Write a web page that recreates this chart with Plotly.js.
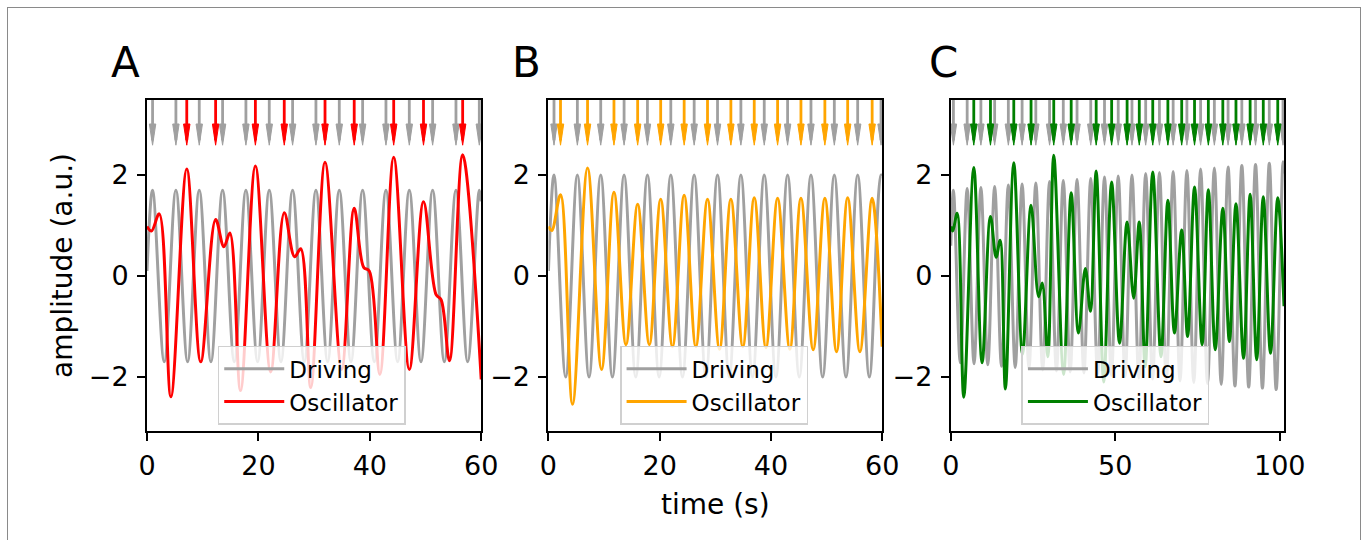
<!DOCTYPE html>
<html>
<head>
<meta charset="utf-8">
<script src="https://cdn.plot.ly/plotly-3.0.1.min.js"></script>
<style>
  html, body { margin: 0; padding: 0; background: #ffffff; }
  #wrap { position: relative; width: 1367px; height: 540px; overflow: hidden; }
  #chart { position: absolute; left: 0; top: 0; width: 1367px; height: 540px; }
  #frame { position: absolute; left: 7px; top: 7px; width: 1352px; height: 560px; border: 1.5px solid #8a8a8a; pointer-events: none; }
</style>
</head>
<body>
<div id="wrap"><div id="chart"></div><div id="frame"></div></div>
<script>
// ---------------- DATA ----------------
const panelLabels = ["A", "B", "C"];
const seriesNames = ["Driving", "Oscillator"];
const xTickValsAB = [0, 20, 40, 60];
const xTickValsC = [0, 50, 100];
const yTickVals = [-2, 0, 2];

// Panel A – driving signal (extrema)
const drvA_t = [0, 1.0, 3.1, 5.19, 7.29, 9.38, 11.48, 13.57, 15.67, 17.76, 19.86, 21.95, 24.05, 26.14, 28.24, 30.33, 32.43, 34.52, 36.62, 38.71, 40.81, 42.9, 45.0, 47.09, 49.19, 51.28, 53.38, 55.47, 57.57, 59.66, 60];
const drvA_y = [0.1, 1.7, -1.7, 1.7, -1.7, 1.7, -1.7, 1.7, -1.7, 1.7, -1.7, 1.7, -1.7, 1.7, -1.7, 1.7, -1.7, 1.7, -1.7, 1.7, -1.7, 1.7, -1.7, 1.7, -1.7, 1.7, -1.7, 1.7, -1.7, 1.7, 1.48];
const drvA_peaks = [1.0, 5.19, 9.38, 13.57, 17.76, 21.95, 26.14, 30.33, 34.52, 38.71, 42.9, 47.09, 51.28, 55.47, 59.66];
// Panel A – oscillator (red)
const oscA_t = [0, 0.8, 2.2, 4.29, 7.14, 9.64, 12.32, 13.8, 14.88, 16.79, 19.46, 22.2, 24.64, 26.5, 27.6, 29.4, 31.96, 34.95, 37.2, 38.9, 39.9, 41.8, 44.29, 47.1, 49.64, 51.9, 52.8, 54.3, 56.67, 60];
const oscA_y = [0.98, 0.89, 1.23, -2.39, 2.12, -1.70, 1.12, 0.58, 0.85, -2.27, 2.18, -1.9, 1.25, 0.38, 0.54, -2.21, 2.25, -1.85, 1.34, 0.17, 0.1, -1.95, 2.35, -1.85, 1.47, -0.37, -0.47, -1.68, 2.4, -2.05];
const oscA_peaks = [7.14, 12.32, 19.46, 24.64, 31.96, 37.2, 44.29, 49.64, 56.67];

// Panel B – driving signal
const drvB_t = [0, 1.0, 3.1, 5.2, 7.3, 9.4, 11.5, 13.6, 15.7, 17.8, 19.9, 22.0, 24.1, 26.2, 28.3, 30.4, 32.5, 34.6, 36.7, 38.8, 40.9, 43.0, 45.1, 47.2, 49.3, 51.4, 53.5, 55.6, 57.7, 59.8, 60];
const drvB_y = [0.1, 2.0, -2.0, 2.0, -2.0, 2.0, -2.0, 2.0, -2.0, 2.0, -2.0, 2.0, -2.0, 2.0, -2.0, 2.0, -2.0, 2.0, -2.0, 2.0, -2.0, 2.0, -2.0, 2.0, -2.0, 2.0, -2.0, 2.0, -2.0, 2.0, 1.99];
const drvB_peaks = [1.0, 5.2, 9.4, 13.6, 17.8, 22.0, 26.2, 30.4, 34.6, 38.8, 43.0, 47.2, 51.4, 55.6, 59.8];
// Panel B – oscillator (orange)
const oscB_t = [0, 0.6, 2.17, 4.33, 7.03, 9.55, 11.78, 13.94, 16.04, 18.14, 20.18, 22.3, 24.4, 26.5, 28.6, 30.76, 32.8, 34.95, 37.0, 39.1, 41.2, 43.4, 45.4, 47.6, 49.7, 51.8, 53.8, 56.0, 58.2, 60];
const oscB_y = [0.98, 0.9, 1.61, -2.54, 2.14, -1.85, 1.66, -1.36, 1.42, -1.36, 1.52, -1.4, 1.6, -1.4, 1.52, -1.45, 1.52, -1.4, 1.55, -1.42, 1.54, -1.45, 1.54, -1.46, 1.54, -1.5, 1.55, -1.5, 1.54, -1.4];
const oscB_peaks = [2.17, 7.03, 11.78, 16.04, 20.18, 24.4, 28.6, 32.8, 37.0, 41.2, 45.4, 49.7, 53.8, 58.2];

// Panel C – driving signal (slowly growing amplitude)
const drvC_t = [0, 0.8, 2.89, 4.98, 7.07, 9.15, 11.24, 13.33, 15.42, 17.5, 19.59, 21.68, 23.77, 25.85, 27.94, 30.03, 32.12, 34.2, 36.29, 38.38, 40.47, 42.55, 44.64, 46.73, 48.82, 50.9, 52.99, 55.08, 57.17, 59.25, 61.34, 63.43, 65.52, 67.6, 69.69, 71.78, 73.87, 75.95, 78.04, 80.13, 82.22, 84.3, 86.39, 88.48, 90.57, 92.65, 94.74, 96.83, 98.92, 101.0, 101.3];
const drvC_y = [0.6, 1.70, -1.72, 1.73, -1.74, 1.75, -1.76, 1.77, -1.79, 1.80, -1.81, 1.82, -1.83, 1.84, -1.86, 1.87, -1.88, 1.89, -1.90, 1.91, -1.92, 1.93, -1.95, 1.96, -1.97, 1.98, -1.99, 2.00, -2.02, 2.03, -2.04, 2.05, -2.06, 2.07, -2.08, 2.09, -2.11, 2.12, -2.13, 2.14, -2.15, 2.16, -2.18, 2.19, -2.20, 2.21, -2.22, 2.23, -2.25, 2.26, 2.03];
const drvC_peaks = [0.8, 4.98, 9.15, 13.33, 17.5, 21.68, 25.85, 30.03, 34.2, 38.38, 42.55, 46.73, 50.9, 55.08, 59.25, 63.43, 67.6, 71.78, 75.95, 80.13, 84.3, 88.48, 92.65, 96.83, 101.0];
// Panel C – oscillator (green)
const oscC_t = [0, 0.6, 1.92, 3.95, 6.99, 9.52, 12.06, 13.78, 15.0, 16.6, 19.15, 21.8, 24.4, 26.7, 27.8, 29.5, 31.3, 34.3, 36.6, 38.8, 40.9, 42.45, 44.2, 46.5, 48.9, 51.3, 53.6, 55.6, 57.3, 59.1, 61.4, 63.9, 66.0, 68.0, 70.2, 72.0, 74.1, 76.4, 78.3, 80.4, 82.7, 84.7, 86.7, 89.0, 91.0, 93.0, 95.0, 97.2, 99.4, 101.3];
const oscC_y = [0.98, 0.89, 1.24, -2.40, 2.15, -1.72, 1.18, 0.37, 0.71, -2.24, 2.24, -1.55, 1.40, -0.41, -0.14, -1.6, 2.39, -1.95, 1.65, -1.13, 0.15, -0.70, 2.08, -2.1, 1.86, -1.33, 1.07, -0.44, 1.07, -1.8, 2.06, -1.6, 1.50, -1.13, 0.91, -1.20, 1.76, -1.36, 1.71, -1.46, 1.34, -1.30, 1.43, -1.63, 1.62, -1.66, 1.57, -1.53, 1.55, -0.6];
const oscC_peaks = [6.99, 12.06, 19.15, 24.4, 31.3, 36.6, 44.2, 48.9, 53.6, 57.3, 61.4, 66.0, 70.2, 74.1, 78.3, 82.7, 86.7, 91.0, 95.0, 99.4];

// ---------------- STYLE / LAYOUT ----------------
const FONT = "DejaVu Sans";
const GRAY = "#a0a0a0";
const oscColors = ["#ff0000", "#ffa500", "#008000"];
const FIG_W = 1367, FIG_H = 540;
const PL = 146.5, PR = 1284.5, PT = 99.5, PB = 431.5;
const plotW = PR - PL, plotH = PB - PT;
const fx = px => (px - PL) / plotW;
const fy = py => (PB - py) / plotH;
const Y_RANGE = [-3.07, 3.485];
const ARROW_TOP = 3.6, HEAD_BASE = 3.01, HEAD_TIP = 2.59, HEAD_HALF_PX = 3.2;
const TICK_SIZE = 27;

const panels = [
  { dom: [146.5, 481], range: [0, 60], ticks: xTickValsAB, drv: [drvA_t, drvA_y, drvA_peaks], osc: [oscA_t, oscA_y, oscA_peaks], legX: 217.3, letterX: 108 },
  { dom: [548.3, 882.3], range: [0, 60], ticks: xTickValsAB, drv: [drvB_t, drvB_y, drvB_peaks], osc: [oscB_t, oscB_y, oscB_peaks], legX: 620, letterX: 510 },
  { dom: [951, 1284.5], range: [0, 101.3], ticks: xTickValsC, drv: [drvC_t, drvC_y, drvC_peaks], osc: [oscC_t, oscC_y, oscC_peaks], legX: 1021.7, letterX: 927 }
];

function arrowShafts(peaks) {
  const x = [], y = [];
  peaks.forEach(t => { x.push(t, t, null); y.push(ARROW_TOP, HEAD_TIP + 0.1, null); });
  return { x, y };
}
function arrowHeads(peaks, hw) {
  const x = [], y = [];
  peaks.forEach(t => { x.push(t - hw, t + hw, t, t - hw, null); y.push(HEAD_BASE, HEAD_BASE, HEAD_TIP, HEAD_BASE, null); });
  return { x, y };
}

const traces = [];
const layout = {
  width: FIG_W, height: FIG_H,
  margin: { l: PL, r: FIG_W - PR, t: PT, b: FIG_H - PB, pad: 0 },
  paper_bgcolor: "#ffffff", plot_bgcolor: "#ffffff",
  font: { family: FONT, color: "#000000", size: 23 },
  showlegend: true,
  annotations: []
};

const legendNames = ["legend", "legend2", "legend3"];
panels.forEach((p, i) => {
  const xa = i === 0 ? "x" : "x" + (i + 1);
  const ya = i === 0 ? "y" : "y" + (i + 1);
  const xk = i === 0 ? "xaxis" : "xaxis" + (i + 1);
  const yk = i === 0 ? "yaxis" : "yaxis" + (i + 1);
  const pxPerUnit = (p.dom[1] - p.dom[0]) / (p.range[1] - p.range[0]);
  const hw = HEAD_HALF_PX / pxPerUnit;
  const col = oscColors[i];

  traces.push({ type: "scatter", mode: "lines", x: p.drv[0], y: p.drv[1], xaxis: xa, yaxis: ya,
    name: seriesNames[0], line: { color: GRAY, width: 3, shape: "spline", smoothing: 1 }, legend: legendNames[i], hoverinfo: "skip" });
  traces.push({ type: "scatter", mode: "lines", x: p.osc[0], y: p.osc[1], xaxis: xa, yaxis: ya,
    name: seriesNames[1], line: { color: col, width: 3, shape: "spline", smoothing: 1 }, legend: legendNames[i], hoverinfo: "skip" });

  [[p.drv[2], GRAY], [p.osc[2], col]].forEach(([pk, c]) => {
    const s = arrowShafts(pk);
    traces.push({ type: "scatter", mode: "lines", x: s.x, y: s.y, xaxis: xa, yaxis: ya, showlegend: false,
      line: { color: c, width: 2.8 }, hoverinfo: "skip", connectgaps: false });
    const h = arrowHeads(pk, hw);
    traces.push({ type: "scatter", mode: "lines", x: h.x, y: h.y, xaxis: xa, yaxis: ya, showlegend: false,
      fill: "toself", fillcolor: c, line: { color: c, width: 1 }, hoverinfo: "skip", connectgaps: false });
  });

  layout[xk] = {
    domain: [fx(p.dom[0]), fx(p.dom[1])], range: p.range, anchor: ya,
    showline: true, mirror: true, linecolor: "#000000", linewidth: 2,
    ticks: "outside", ticklen: 8, tickwidth: 2, tickcolor: "#000000",
    tickvals: p.ticks, ticktext: p.ticks.map(String), showgrid: false, zeroline: false,
    tickfont: { family: FONT, size: TICK_SIZE, color: "#000000" }, ticklabelstandoff: 2
  };
  layout[yk] = {
    domain: [0, 1], range: Y_RANGE, anchor: xa,
    showline: true, mirror: true, linecolor: "#000000", linewidth: 2,
    ticks: "outside", ticklen: 8, tickwidth: 2, tickcolor: "#000000",
    tickvals: yTickVals, ticktext: yTickVals.map(v => v < 0 ? "\u2212" + Math.abs(v) : String(v)),
    showgrid: false, zeroline: false,
    tickfont: { family: FONT, size: TICK_SIZE, color: "#000000" }, ticklabelstandoff: 3
  };
  layout[legendNames[i]] = {
    x: fx(p.legX), y: fy(346), xanchor: "left", yanchor: "top", xref: "paper", yref: "paper",
    bgcolor: "rgba(255,255,255,0.8)", bordercolor: "#d0d0d0", borderwidth: 1.5,
    font: { family: FONT, size: 23, color: "#000000" }, itemwidth: 60, tracegroupgap: 0
  };
  layout.annotations.push({
    text: panelLabels[i], xref: "paper", yref: "paper",
    x: fx(p.letterX), y: fy(62), xanchor: "left", yanchor: "middle",
    showarrow: false, font: { family: FONT, size: 42, color: "#000000" }
  });
});

layout.yaxis.title = { text: "amplitude (a.u.)", font: { family: FONT, size: 28, color: "#000000" }, standoff: 8 };
layout.xaxis2.title = { text: "time (s)", font: { family: FONT, size: 28, color: "#000000" }, standoff: 14 };

Plotly.newPlot("chart", traces, layout, { staticPlot: true, displayModeBar: false });
</script>
</body>
</html>
